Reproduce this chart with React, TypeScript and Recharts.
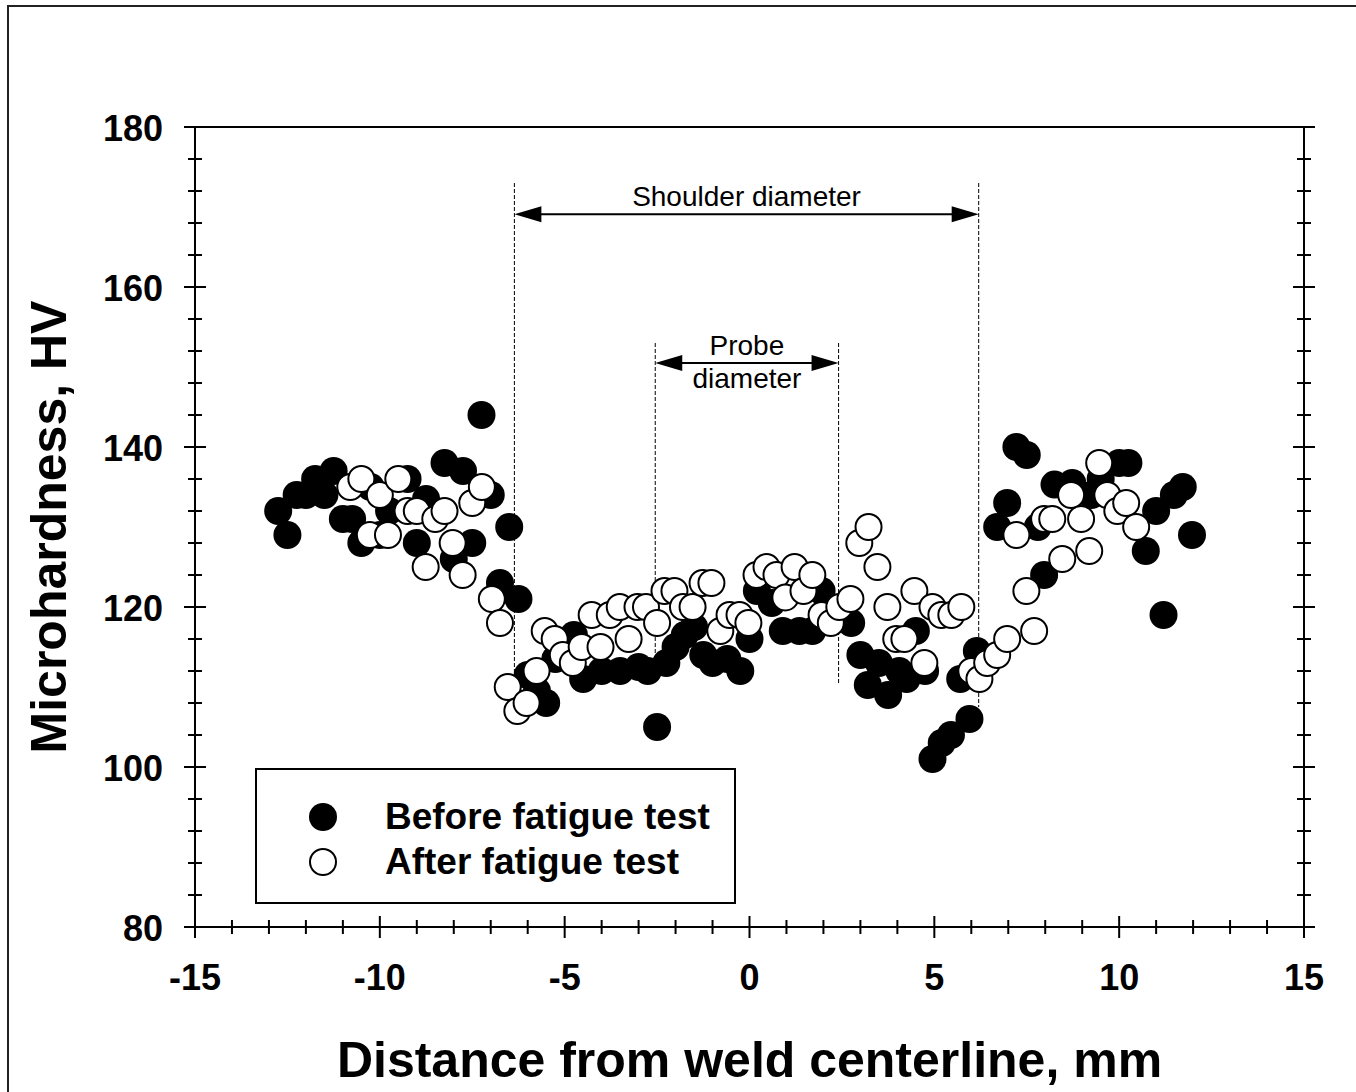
import React from "react";
import {
  ScatterChart, Scatter, XAxis, YAxis, Legend, ReferenceLine,
} from "recharts";

// Microhardness traverse across the weld, HV vs distance (mm)
const before: [number, number][] = [
  [-12.75, 132], [-12.5, 129], [-12.25, 134], [-12.0, 134], [-11.75, 136], [-11.5, 134],
  [-11.25, 137], [-11.0, 131], [-10.75, 131], [-10.5, 128], [-10.25, 135], [-10.0, 129],
  [-9.75, 132], [-9.25, 136], [-9.0, 128], [-8.75, 133.5], [-8.25, 138], [-8.0, 126],
  [-7.75, 137], [-7.5, 128], [-7.25, 144], [-7.0, 134], [-6.75, 123], [-6.5, 130],
  [-6.25, 121], [-6.0, 111.5], [-5.75, 109.5], [-5.5, 108], [-5.25, 113.5], [-4.75, 116.5],
  [-4.5, 111], [-4.0, 112], [-3.5, 112], [-3.0, 112.5], [-2.75, 112], [-2.5, 105],
  [-2.25, 113], [-2.0, 115], [-1.75, 116.5], [-1.5, 117.5], [-1.25, 114], [-1.0, 113],
  [-0.6, 113.5], [-0.25, 112], [0.0, 116], [0.2, 122], [0.6, 120.5], [0.9, 117],
  [1.35, 117], [1.7, 117], [1.95, 122], [2.75, 118], [3.0, 114], [3.2, 110.25],
  [3.5, 113], [3.75, 109], [4.05, 112], [4.25, 111], [4.5, 117], [4.75, 112],
  [4.95, 101], [5.2, 103], [5.45, 104], [5.7, 111], [5.95, 106], [6.15, 114.5],
  [6.7, 130], [6.97, 133], [7.22, 140], [7.5, 139], [7.8, 130], [7.97, 124],
  [8.25, 135.3], [8.73, 135.5], [9.25, 134], [9.5, 136], [10.0, 138], [10.25, 138],
  [10.72, 127], [11.0, 132], [11.2, 119], [11.48, 134], [11.72, 135], [11.97, 129],
];

const after: [number, number][] = [
  [-10.8, 135], [-10.5, 136], [-10.27, 129], [-10.0, 134], [-9.78, 129], [-9.5, 136],
  [-9.25, 132], [-9.0, 132], [-8.76, 125], [-8.5, 131], [-8.25, 132], [-8.03, 128],
  [-7.76, 124], [-7.5, 133], [-7.24, 135], [-6.97, 121], [-6.75, 118], [-6.54, 110],
  [-6.28, 107], [-6.03, 108], [-5.76, 112], [-5.54, 117], [-5.27, 116], [-5.05, 114],
  [-4.78, 113], [-4.54, 115], [-4.27, 119], [-4.03, 115], [-3.78, 119], [-3.51, 120],
  [-3.27, 116], [-3.03, 120], [-2.8, 120], [-2.5, 118], [-2.3, 122], [-2.03, 122],
  [-1.8, 120], [-1.54, 120], [-1.27, 123], [-1.03, 123], [-0.79, 117], [-0.54, 119],
  [-0.27, 119], [-0.03, 118], [0.19, 124], [0.46, 125], [0.73, 124], [0.97, 121.2],
  [1.22, 125], [1.46, 122], [1.7, 124], [1.95, 119], [2.2, 118], [2.43, 120],
  [2.73, 121], [2.97, 128], [3.22, 130], [3.46, 125], [3.73, 120], [3.97, 116],
  [4.19, 116], [4.46, 122], [4.73, 113], [4.95, 120], [5.19, 119], [5.46, 119],
  [5.73, 120], [6.0, 112], [6.22, 111], [6.43, 113], [6.7, 114], [6.97, 116],
  [7.22, 129], [7.49, 122], [7.7, 117], [7.97, 131], [8.19, 131], [8.46, 126],
  [8.7, 134], [8.97, 131], [9.19, 127], [9.46, 138], [9.68, 134], [9.95, 132],
  [10.19, 133], [10.46, 130],
];

const seriesNames = ["Before fatigue test", "After fatigue test"];
const xTicks = Array.from({ length: 31 }, (_, i) => i - 15);
const yTicks = Array.from({ length: 26 }, (_, i) => 80 + i * 4);

// tool footprint: guide line x, top, bottom ends, and arrow height
const shoulder = { from: -6.36, to: 6.2, top: 173, left: 106.8, right: 107.5, arrowY: 169.1 };
const probe = { from: -2.55, to: 2.41, top: 153, left: 114, right: 110.5, arrowY: 150.5 };

const beforeData = before.map(([x, y]) => ({ x, y }));
const afterData = after.map(([x, y]) => ({ x, y }));

const FONT = '"Liberation Sans", Arial, Helvetica, sans-serif';
const MAJOR = 11;
const MINOR = 7;

function HTick(props: any) {
  const { x, y, payload, labels } = props;
  const v = payload.value;
  const major = v % 5 === 0;
  const len = major ? MAJOR : MINOR;
  return (
    <g>
      <line x1={x} x2={x} y1={y - len} y2={y + len} stroke="#000" strokeWidth={2} />
      {labels && major && (
        <text x={x} y={y + 50} textAnchor="middle" dominantBaseline="central"
          fontFamily={FONT} fontWeight={700} fontSize={36} fill="#000">
          {String(v)}
        </text>
      )}
    </g>
  );
}

function VTick(props: any) {
  const { x, y, payload, labels } = props;
  const v = payload.value;
  const major = (v - 80) % 20 === 0;
  const len = major ? MAJOR : MINOR;
  return (
    <g>
      <line x1={x - len} x2={x + len} y1={y} y2={y} stroke="#000" strokeWidth={2} />
      {labels && major && (
        <text x={x - 32} y={y + 1} textAnchor="end" dominantBaseline="central"
          fontFamily={FONT} fontWeight={700} fontSize={36} fill="#000">
          {String(v)}
        </text>
      )}
    </g>
  );
}

function arrowShape(top: string | null, bottom: string | null) {
  return (p: any) => {
    const { x1, x2, y1 } = p;
    const y = y1;
    const head = 27;
    const hw = 8;
    const mid = (x1 + x2) / 2;
    return (
      <g>
        <line x1={x1 + head - 2} x2={x2 - head + 2} y1={y} y2={y} stroke="#000" strokeWidth={2} />
        <polygon points={`${x1},${y} ${x1 + head},${y - hw} ${x1 + head},${y + hw}`} fill="#000" />
        <polygon points={`${x2},${y} ${x2 - head},${y - hw} ${x2 - head},${y + hw}`} fill="#000" />
        {top && (
          <text x={mid} y={y - 8} textAnchor="middle" fontFamily={FONT} fontSize={28} fill="#000">{top}</text>
        )}
        {bottom && (
          <text x={mid} y={y + 25} textAnchor="middle" fontFamily={FONT} fontSize={28} fill="#000">{bottom}</text>
        )}
      </g>
    );
  };
}

const dot = (filled: boolean) => (p: any) =>
  filled
    ? <circle cx={p.cx} cy={p.cy} r={14} fill="#000" />
    : <circle cx={p.cx} cy={p.cy} r={13} fill="#fff" stroke="#000" strokeWidth={2} />;

function LegendBox() {
  return (
    <div style={{
      width: "100%", height: "100%", boxSizing: "border-box", border: "2px solid #000",
      position: "relative", background: "#fff",
    }}>
      {seriesNames.map((name, i) => (
        <div key={name} style={{ position: "absolute", left: 0, top: 47 + i * 45 - 20, height: 40, width: "100%" }}>
          <svg width={40} height={40} style={{ position: "absolute", left: 46, top: 0 }}>
            {i === 0
              ? <circle cx={20} cy={20} r={14} fill="#000" />
              : <circle cx={20} cy={20} r={13} fill="#fff" stroke="#000" strokeWidth={2} />}
          </svg>
          <span style={{
            position: "absolute", left: 128, top: 0, whiteSpace: "nowrap", fontFamily: FONT,
            fontWeight: 700, fontSize: 37, lineHeight: "40px", color: "#000",
          }}>{name}</span>
        </div>
      ))}
    </div>
  );
}

export default function App() {
  return (
    <div style={{ position: "absolute", left: 0, top: 0, width: 1356, height: 1092, background: "#fff" }}>
      <div style={{
        position: "absolute", left: 7, top: 5, width: 1360, height: 1100,
        borderLeft: "2px solid #222", borderTop: "2px solid #222", pointerEvents: "none",
      }} />
      <ScatterChart width={1356} height={1092} margin={{ top: 126, right: 51, bottom: 164, left: 194 }}>
        <XAxis
          xAxisId={0} type="number" dataKey="x" domain={[-15, 15]} ticks={xTicks} interval={0}
          allowDataOverflow height={1} tickSize={0} tickMargin={0} tickLine={false}
          axisLine={{ stroke: "#000", strokeWidth: 2 }}
          tick={(p: any) => <HTick {...p} labels />}
          label={(p: any) => {
            const vb = p.viewBox ?? { x: 195, y: 927, width: 1109 };
            return (
              <text x={vb.x + vb.width / 2} y={vb.y + 150} textAnchor="middle"
                fontFamily={FONT} fontWeight={700} fontSize={50} fill="#000">
                Distance from weld centerline, mm
              </text>
            );
          }}
        />
        <XAxis
          xAxisId="top" orientation="top" type="number" domain={[-15, 15]} ticks={xTicks} interval={0}
          allowDataOverflow height={1} tickSize={0} tickMargin={0} tickLine={false}
          axisLine={{ stroke: "#000", strokeWidth: 2 }}
          tick={(p: any) => <HTick {...p} labels={false} />}
        />
        <YAxis
          yAxisId={0} type="number" dataKey="y" domain={[80, 180]} ticks={yTicks} interval={0}
          allowDataOverflow width={1} tickSize={0} tickMargin={0} tickLine={false}
          axisLine={{ stroke: "#000", strokeWidth: 2 }}
          tick={(p: any) => <VTick {...p} labels />}
          label={(p: any) => {
            const vb = p.viewBox ?? { x: 195, y: 127, height: 800 };
            const cx = vb.x + (vb.width ?? 0) - 146;
            const cy = vb.y + vb.height / 2;
            return (
              <text x={cx} y={cy} transform={`rotate(-90 ${cx} ${cy})`} textAnchor="middle"
                dominantBaseline="central" fontFamily={FONT} fontWeight={700} fontSize={50} fill="#000">
                Microhardness, HV
              </text>
            );
          }}
        />
        <YAxis
          yAxisId="right" orientation="right" type="number" domain={[80, 180]} ticks={yTicks} interval={0}
          allowDataOverflow width={1} tickSize={0} tickMargin={0} tickLine={false}
          axisLine={{ stroke: "#000", strokeWidth: 2 }}
          tick={(p: any) => <VTick {...p} labels={false} />}
        />

        {/* shoulder and probe extents */}
        <ReferenceLine segment={[{ x: shoulder.from, y: shoulder.top }, { x: shoulder.from, y: shoulder.left }]}
          stroke="#000" strokeWidth={1} strokeDasharray="4 2" />
        <ReferenceLine segment={[{ x: shoulder.to, y: shoulder.top }, { x: shoulder.to, y: shoulder.right }]}
          stroke="#000" strokeWidth={1} strokeDasharray="4 2" />
        <ReferenceLine segment={[{ x: probe.from, y: probe.top }, { x: probe.from, y: probe.left }]}
          stroke="#000" strokeWidth={1} strokeDasharray="4 2" />
        <ReferenceLine segment={[{ x: probe.to, y: probe.top }, { x: probe.to, y: probe.right }]}
          stroke="#000" strokeWidth={1} strokeDasharray="4 2" />
        <ReferenceLine segment={[{ x: shoulder.from, y: shoulder.arrowY }, { x: shoulder.to, y: shoulder.arrowY }]}
          shape={arrowShape("Shoulder diameter", null)} />
        <ReferenceLine segment={[{ x: probe.from, y: probe.arrowY }, { x: probe.to, y: probe.arrowY }]}
          shape={arrowShape("Probe", "diameter")} />

        <Scatter name={seriesNames[0]} data={beforeData} shape={dot(true)} isAnimationActive={false} />
        <Scatter name={seriesNames[1]} data={afterData} shape={dot(false)} isAnimationActive={false} />

        <Legend
          layout="vertical" align="center" verticalAlign="middle"
          content={<LegendBox />}
          wrapperStyle={{ left: 255, top: 768, width: 481, height: 136 }}
        />
      </ScatterChart>
    </div>
  );
}
